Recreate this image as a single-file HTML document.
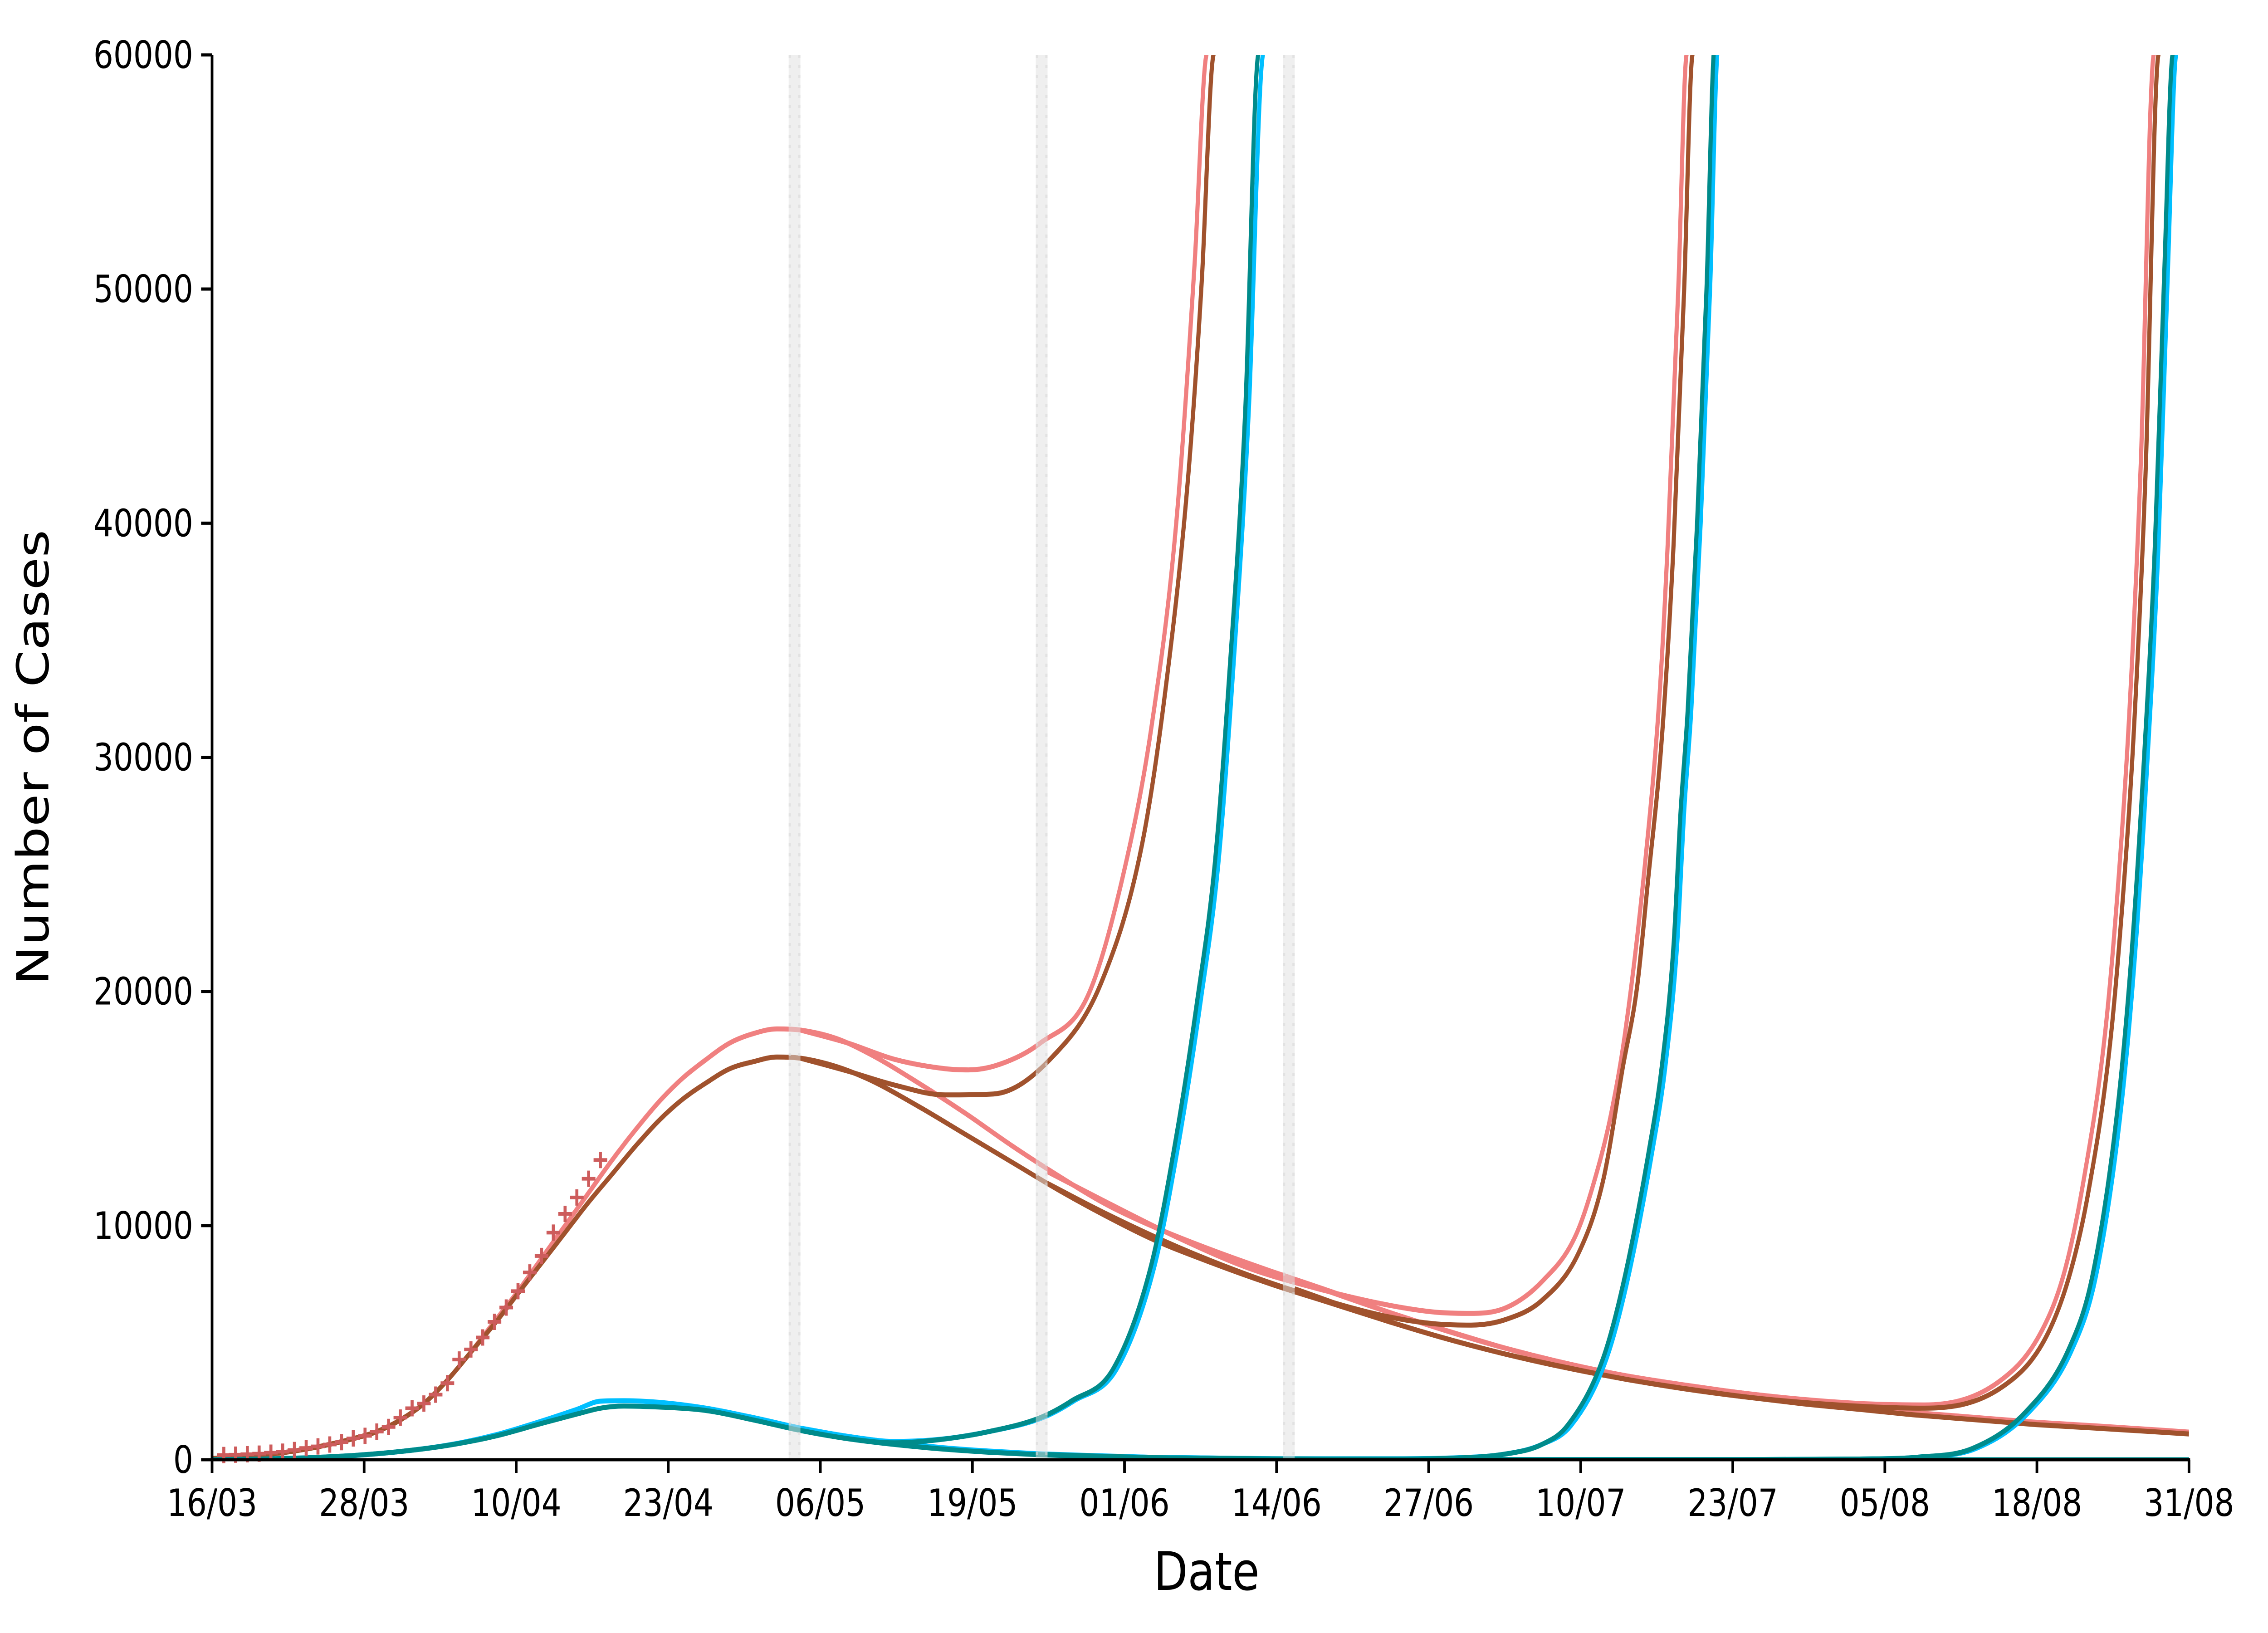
<!DOCTYPE html>
<html><head><meta charset="utf-8"><style>
html,body{margin:0;padding:0;background:#fff;width:100%;height:100%;overflow:hidden;}
svg{display:block;font-family:"DejaVu Sans","Liberation Sans",sans-serif;overflow:hidden;width:100vw;height:100vh;}
</style></head><body>
<svg id="chart" viewBox="0 0 6000 3600" preserveAspectRatio="none" xmlns="http://www.w3.org/2000/svg">
<defs><clipPath id="plotclip"><rect x="561" y="121" width="5230" height="3097"/></clipPath></defs>
<rect x="0" y="0" width="6000" height="3600" fill="#fff"/>
<g id="lines" clip-path="url(#plotclip)"></g>
<g id="markers"></g>
<g id="bands"></g>
<g id="axes"></g>
<text x="3192" y="3505" font-size="117" text-anchor="middle">Date</text>
<text x="0" y="0" font-size="117" text-anchor="middle" transform="translate(128,1670) rotate(-90)">Number of Cases</text>
</svg>
<script>
// ---- data ----
const xTickLabels = ["16/03","28/03","10/04","23/04","06/05","19/05","01/06","14/06","27/06","10/07","23/07","05/08","18/08","31/08"];
const yTicks = [0,10000,20000,30000,40000,50000,60000];
const totalDays = 168;
const bandStarts = [49, 70, 91];

const markerDays = [1,2,3,4,5,6,7,8,9,10,11,12,13,14,15,16,17,18,19,20,21,22,23,24,25,26,27,28,29,30,31,32,33];
const markerVals = [200,215,235,260,300,345,415,500,570,650,750,910,1020,1200,1400,1800,2200,2400,2780,3270,4280,4710,5220,5890,6500,7200,8000,8700,9700,10500,11200,12000,12800];

const baseDays = [0,3,6,9,12,14,16,18,20,22,24,26,28,30,32,34,36,38,40,42,44,46,48,50,53,56,60,64,68,72,76,80,85,90,95,100,105,110,115,120,125,130,135,140,145,150,155,160,168];
const pinkBase = [50,150,300,550,900,1200,1700,2400,3400,4600,5900,7200,8600,10000,11400,12800,14100,15300,16300,17100,17800,18200,18400,18350,18000,17300,16100,14800,13400,12100,10900,9950,8950,8050,7200,6300,5500,4750,4100,3600,3200,2850,2550,2250,2000,1800,1600,1450,1180];
const siennaBase = [50,150,300,550,900,1200,1700,2400,3400,4600,5800,7100,8400,9700,11000,12200,13400,14500,15400,16100,16700,17000,17200,17150,16800,16200,15100,13900,12700,11500,10400,9400,8400,7500,6700,5900,5150,4500,3950,3450,3050,2700,2400,2150,1900,1700,1500,1350,1100];

const pinkB1Days = [50,54,58,62.3,64.3,67,70.4,74.5,77.8,79.8,81.9,83.5,84.5,85.1];
const pinkB1Vals = [18350,17800,17100,16700,16650,16900,17800,19900,25800,31200,39800,51100,60000,66000];
const pinkB2Days = [71,76,82,88,94,100,104,107,110,113,115.9,117.8,118.9,120.1,121.8,123,123.7,124.6,125.3,125.8];
const pinkB2Vals = [12300,11000,9500,8200,7300,6600,6300,6250,6500,7600,9600,12500,14800,18300,25600,32600,39100,50000,60000,67000];
const pinkB3Days = [92,100,110,120,130,139.4,145.5,151.7,155.3,157.4,159,160.9,162.1,162.9,163.9,165,165.6];
const pinkB3Vals = [7700,6300,4750,3600,2850,2420,2340,3280,5330,8000,11800,18370,25390,31610,42520,60000,68000];

const siennaB1Days = [50,54,58,62.3,66.4,71.4,75.5,79,81,82.9,84.1,85.1,85.7];
const siennaB1Vals = [17150,16600,16000,15580,15620,17200,20300,26200,32800,41700,50300,60000,66000];
const siennaB2Days = [71,76,82,88,94,100,104,107,110,113,116.1,118.2,119.9,121.1,122,123.2,124.2,125.1,125.8,126.3];
const siennaB2Vals = [11800,10500,9100,7900,6900,6100,5800,5750,6000,6800,8800,11900,16800,20200,24600,30800,39100,50000,60000,67000];
const siennaB3Days = [92,100,110,120,130,139.4,145.5,152.1,155.7,157.8,159.4,161.3,162.5,163.3,164.3,165.4,166];
const siennaB3Vals = [7300,5900,4500,3450,2700,2300,2200,3100,5100,7800,11300,17800,24800,31000,42000,60000,68000];

const lowDays = [0,4,8,12,16,20,24,28,31,33,35,38,42,46,50,54,58,62,66,70,75,80,90,100,120,168];
const blueBase = [0,25,80,180,350,620,1050,1650,2150,2500,2520,2450,2200,1800,1350,1000,730,520,370,260,160,100,40,15,3,0];
const tealBase = [0,25,80,180,350,610,1000,1550,1950,2200,2290,2250,2100,1700,1250,900,650,460,320,220,140,85,35,12,2,0];

const blueB1Days = [50,54,58,62,66,70.6,73.2,76.9,80.1,82.2,84,85.5,86.7,88.1,89.3,89.8];
const blueB1Vals = [1350,1000,780,880,1200,1800,2500,3900,8300,13700,19550,25400,33200,44800,60000,67000];
const tealB1Days = [50,54,58,62,66,70.4,73,76.6,79.8,81.9,83.7,85.2,86.4,87.8,88.9,89.4];
const tealB1Vals = [1250,900,720,870,1200,1800,2500,3900,8300,13700,19550,25400,33200,44800,60000,67000];
const blueB2Days = [71,80,90,100,105,110,113,115.5,118.5,120.3,122.4,123.5,124.5,125.1,125.7,126.5,127.3,128,128.5];
const blueB2Vals = [240,100,45,40,70,250,650,1470,4320,7700,13200,16800,22000,27700,32000,40000,50000,61000,68000];
const tealB2Days = [71,80,90,100,105,110,113,115.2,118.2,120,122.1,123.2,124.2,124.8,125.4,126.2,127,127.7,128.2];
const tealB2Vals = [220,85,35,30,60,250,650,1470,4320,7700,13200,16800,22000,27700,32000,40000,50000,61000,68000];
const blueB3Days = [92,100,110,120,130,140,145,149.9,154.4,158.1,160.1,162.2,163.4,164.4,165.4,166.2,166.9,167.4];
const blueB3Vals = [35,15,5,3,5,30,110,480,2030,4750,7870,14880,21490,29280,39010,50700,60000,67000];
const tealB3Days = [92,100,110,120,130,140,145,149.6,154.1,157.8,159.8,161.9,163.1,164.1,165.1,165.9,166.6,167.1];
const tealB3Vals = [33,12,4,2,4,30,110,480,2030,4750,7870,14880,21490,29280,39010,50700,60000,67000];

// ---- scales ----
const X0 = 561, X1 = 5791, Y0 = 3218, Y1 = 121, YMAX = 60000;
function xs(d){ return X0 + d/totalDays*(X1-X0); }
function ys(v){ return Y0 - v/YMAX*(Y0-Y1); }
const NS = "http://www.w3.org/2000/svg";
function mk(tag, attrs, parent){ const e=document.createElementNS(NS,tag); for(const k in attrs) e.setAttribute(k,attrs[k]); parent.appendChild(e); return e; }

function monotonePath(xsArr, ysArr){
  const n = xsArr.length, d=[], m=[];
  for(let i=0;i<n-1;i++) d.push((ysArr[i+1]-ysArr[i])/(xsArr[i+1]-xsArr[i]));
  m[0]=d[0]; m[n-1]=d[n-2];
  for(let i=1;i<n-1;i++){ m[i] = (d[i-1]*d[i]<=0)?0:(d[i-1]+d[i])/2; }
  for(let i=0;i<n-1;i++){
    if(d[i]===0){ m[i]=0; m[i+1]=0; continue; }
    const a=m[i]/d[i], b=m[i+1]/d[i], s=a*a+b*b;
    if(s>9){ const t=3/Math.sqrt(s); m[i]=t*a*d[i]; m[i+1]=t*b*d[i]; }
  }
  let p = "M"+xsArr[0].toFixed(1)+","+ysArr[0].toFixed(1);
  for(let i=0;i<n-1;i++){
    const h = xsArr[i+1]-xsArr[i];
    const c1 = Math.max(ysArr[i]+m[i]*h/3, Y1-20), c2 = Math.max(ysArr[i+1]-m[i+1]*h/3, Y1-20);
    p += " C"+(xsArr[i]+h/3).toFixed(1)+","+c1.toFixed(1)+" "+(xsArr[i+1]-h/3).toFixed(1)+","+c2.toFixed(1)+" "+xsArr[i+1].toFixed(1)+","+ysArr[i+1].toFixed(1);
  }
  return p;
}

const linesG = document.getElementById('lines');
function drawSeries(days, vals, color, name){
  const px = days.map(xs), py = vals.map(v => Math.max(ys(v), Y1-20));
  const dStr = monotonePath(px, py);
  const p = mk('path',{d:dStr, fill:'none', stroke:color, 'stroke-width':11, 'stroke-linejoin':'round'}, linesG);
  
  
}
const PINK="#f08080", SIENNA="#a0522d", BLUE="#00bfff", TEAL="#008b8b";
drawSeries(baseDays, pinkBase, PINK, 'pink-baseline');
drawSeries(pinkB1Days, pinkB1Vals, PINK, 'pink-release-1');
drawSeries(pinkB2Days, pinkB2Vals, PINK, 'pink-release-2');
drawSeries(pinkB3Days, pinkB3Vals, PINK, 'pink-release-3');
drawSeries(baseDays, siennaBase, SIENNA, 'sienna-baseline');
drawSeries(siennaB1Days, siennaB1Vals, SIENNA, 'sienna-release-1');
drawSeries(siennaB2Days, siennaB2Vals, SIENNA, 'sienna-release-2');
drawSeries(siennaB3Days, siennaB3Vals, SIENNA, 'sienna-release-3');
drawSeries(lowDays, blueBase, BLUE, 'blue-baseline');
drawSeries(blueB1Days, blueB1Vals, BLUE, 'blue-release-1');
drawSeries(blueB2Days, blueB2Vals, BLUE, 'blue-release-2');
drawSeries(blueB3Days, blueB3Vals, BLUE, 'blue-release-3');
drawSeries(lowDays, tealBase, TEAL, 'teal-baseline');
drawSeries(tealB1Days, tealB1Vals, TEAL, 'teal-release-1');
drawSeries(tealB2Days, tealB2Vals, TEAL, 'teal-release-2');
drawSeries(tealB3Days, tealB3Vals, TEAL, 'teal-release-3');

// markers
const mG = document.getElementById('markers');
markerDays.forEach((d,i)=>{
  const cx = xs(d), cy = ys(markerVals[i]), r = 18;
  const p = mk('path',{d:`M${cx-r},${cy} H${cx+r} M${cx},${cy-r} V${cy+r}`, stroke:'#cd5c5c', 'stroke-width':8, fill:'none'}, mG);
  
  
});

// bands
const bG = document.getElementById('bands');
bandStarts.forEach(d=>{
  const r = mk('rect',{x:xs(d), y:Y1, width:xs(d+1)-xs(d), height:Y0-Y1, fill:'#e0e0e0', 'fill-opacity':0.5}, bG);
  
  
  [xs(d)+3, xs(d+1)-3].forEach(lx=>{
    const l = mk('line',{x1:lx, y1:Y1, x2:lx, y2:Y0, stroke:'#d8d8d8', 'stroke-width':6, 'stroke-dasharray':'7 15', 'stroke-opacity':0.6}, bG);
    
    
  });
});

// axes
const aG = document.getElementById('axes');
const sp1 = mk('line',{x1:X0, y1:Y1, x2:X0, y2:Y0+3, stroke:'#000', 'stroke-width':7}, aG);


const sp2 = mk('line',{x1:X0-3, y1:Y0, x2:X1+3, y2:Y0, stroke:'#000', 'stroke-width':7}, aG);


yTicks.forEach(v=>{
  const y = ys(v);
  const t = mk('line',{x1:X0-29, y1:y, x2:X0, y2:y, stroke:'#000', 'stroke-width':7}, aG);
  
  
  const tx = mk('text',{x:X0-50, y:y+29, 'font-size':83, 'text-anchor':'end'}, aG);
  tx.textContent = String(v);
  
  
});
xTickLabels.forEach((lab,i)=>{
  const x = X0 + i*(X1-X0)/(xTickLabels.length-1);
  const t = mk('line',{x1:x, y1:Y0, x2:x, y2:Y0+29, stroke:'#000', 'stroke-width':7}, aG);
  
  
  const tx = mk('text',{x:x, y:Y0+124, 'font-size':83, 'text-anchor':'middle'}, aG);
  tx.textContent = lab;
  
  
});
</script>
</body></html>
